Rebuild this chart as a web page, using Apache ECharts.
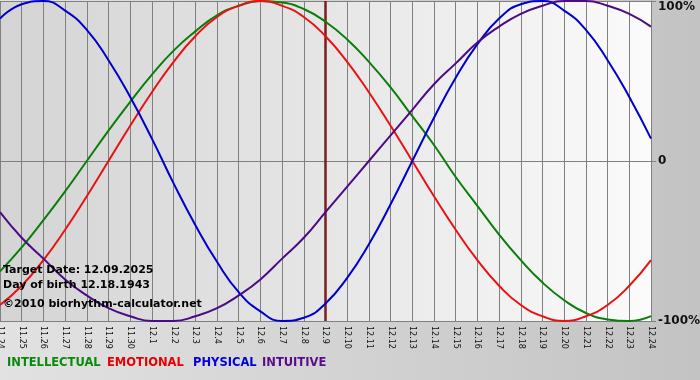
<!DOCTYPE html>
<html><head><meta charset="utf-8">
<script src="https://cdn.jsdelivr.net/npm/echarts@6/dist/echarts.min.js"></script>
<style>html,body{margin:0;padding:0;}#c{width:700px;height:380px;}</style>
</head><body><div id="c"></div>
<script>
var days = ['11.24','11.25','11.26','11.27','11.28','11.29','11.30','12.1','12.2','12.3','12.4','12.5','12.6','12.7','12.8','12.9','12.10','12.11','12.12','12.13','12.14','12.15','12.16','12.17','12.18','12.19','12.20','12.21','12.22','12.23','12.24'];
var intellectual = [-69,-54,-37,-19,0,19,37,54,69,81,91,97,100,99,95,87,76,62,46,28,10,-10,-28,-46,-62,-76,-87,-95,-99,-100,-97];
var emotional = [-90,-78,-62,-43,-22,0,22,43,62,78,90,97,100,97,90,78,62,43,22,0,-22,-43,-62,-78,-90,-97,-100,-97,-90,-78,-62];
var physical = [89,98,100,94,82,63,40,14,-14,-40,-63,-82,-94,-100,-98,-89,-73,-52,-27,0,27,52,73,89,98,100,94,82,63,40,14];
var intuitive = [-32,-48,-61,-74,-84,-92,-97,-100,-100,-97,-92,-84,-74,-61,-48,-32,-16,0,16,32,48,61,74,84,92,97,100,100,97,92,84];
var yTicks = {'100':'{t|100%}','0':'0','-100':'-100%'};
var targetDay = '12.9';
var legendNames = ['INTELLECTUAL','EMOTIONAL','PHYSICAL','INTUITIVE'];
var colors = ['#0a7d0a','#e81212','#0000cc','#4d0a86'];
var legendColors = ['#0a8a0a','#e80000','#0000dd','#5a0a8a'];
var infoLines = ['Target Date: 12.09.2025','Day of birth 12.18.1943','\u00A92010 biorhythm-calculator.net'];

var chart = echarts.init(document.getElementById('c'), null, {renderer:'canvas'});
var F = 'DejaVu Sans, Verdana, sans-serif';
var series = [intellectual, emotional, physical, intuitive].map(function(d,i){
  return {type:'line', name:legendNames[i], data:d, smooth:true, symbol:'none',
    lineStyle:{color:colors[i], width:2}, itemStyle:{color:colors[i]}, z:3};
});
series[0].markLine = {silent:true, symbol:'none', label:{show:false},
  lineStyle:{color:'#7a1c1c', width:2.5, type:'solid'}, data:[{xAxis:targetDay}], z:1};
var legendX = [7,107,193,262];
var graphics = legendNames.map(function(n,i){
  return {type:'text', left:legendX[i], top:357, style:{text:n, fill:legendColors[i], font:'bold 11.5px '+F}};
});
var infoY = [265,280,299];
infoLines.forEach(function(t,i){
  graphics.push({type:'text', left:3, top:infoY[i], z:10, style:{text:t, fill:'#000', font:'bold 11px '+F}});
});
chart.setOption({
  animation:false,
  backgroundColor: new echarts.graphic.LinearGradient(0,0,1,0,[{offset:0,color:'#e2e2e2'},{offset:1,color:'#c3c3c3'}]),
  grid:{left:0, top:1, width:651, height:320, show:true, borderWidth:0, containLabel:false, outerBoundsMode:'none',
    backgroundColor: new echarts.graphic.LinearGradient(0,0,1,0,[{offset:0,color:'#d4d4d4'},{offset:0.5,color:'#e6e6e6'},{offset:1,color:'#fbfbfb'}])},
  xAxis:{type:'category', data:days, boundaryGap:false,
    axisLine:{lineStyle:{color:'#808080', width:1}},
    axisTick:{show:true, interval:0, length:5, lineStyle:{color:'#808080'}},
    axisLabel:{interval:0, rotate:-90, fontSize:8, color:'#111', fontFamily:F, margin:5, hideOverlap:false},
    splitLine:{show:true, interval:0, lineStyle:{color:'#808080', width:1}}},
  yAxis:{type:'value', position:'right', min:-100, max:100, interval:100,
    axisLine:{show:true, lineStyle:{color:'#808080'}},
    axisTick:{show:true, length:5, lineStyle:{color:'#808080'}},
    axisLabel:{margin:7, fontSize:12, fontWeight:'bold', color:'#111', fontFamily:F,
      formatter:function(v){return yTicks[String(v)];},
      rich:{t:{fontSize:12, fontWeight:'bold', color:'#111', fontFamily:F, padding:[12,0,0,0]}}},
    splitLine:{show:true, lineStyle:{color:'#808080', width:1}}},
  series:series,
  graphic:graphics
});
</script></body></html>
